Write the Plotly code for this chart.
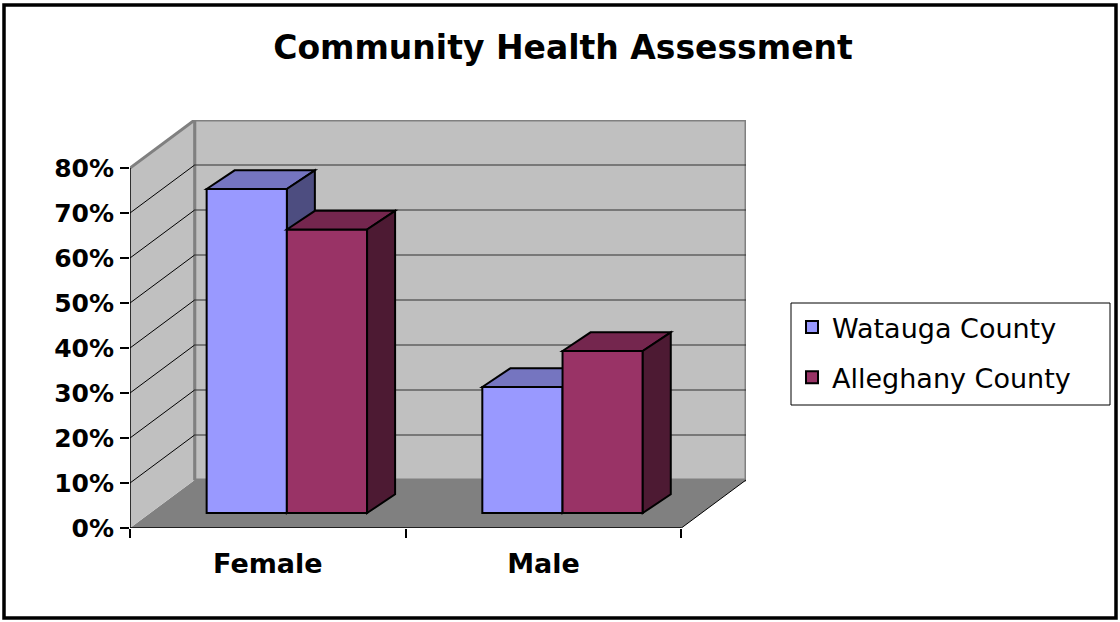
import plotly.graph_objects as go

# ---------------- data ----------------
categories = ["Female", "Male"]
series_names = ["Watauga County", "Alleghany County"]
watauga = [72, 28]
alleghany = [63, 36]
y_tick_values = [0, 10, 20, 30, 40, 50, 60, 70, 80]
y_tick_labels = ["0%", "10%", "20%", "30%", "40%", "50%", "60%", "70%", "80%"]

# ---------------- styling / 3-D geometry ----------------
W, H = 1120, 622
L, R, T, B = 130, 374, 120, 94           # plot area: x 130..746, y 120..528
Y_MAX = 80
DX, DY = 0.2345, 10.67                   # full depth offset (x in category units, y in %)
BDX, BDY = 0.1016, 4.16                  # bar depth offset
BASE = 3.33                              # bar front face floor level
GAP = 0.278                              # space before first bar in a category
BW = 0.291                               # bar width
FRONT = ["#9999FF", "#993366"]
TOP = ["#7575C0", "#74264E"]
SIDE = ["#4D4D80", "#4D1A33"]
WALL = "#C0C0C0"
FLOOR = "#808080"
FONT = "DejaVu Sans"

pw = W - L - R
ph = H - T - B


def px2paper(px, py):
    return (px - L) / pw, (H - B - py) / ph


def path(pts):
    return "M " + " L ".join(f"{x},{y}" for x, y in pts) + " Z"


shapes = []
# floor
shapes.append(dict(type="path", xref="x", yref="y", layer="below",
                   path=path([(0, 0), (2, 0), (2 + DX, DY), (DX, DY)]),
                   fillcolor=FLOOR, line=dict(width=0)))
# back wall
shapes.append(dict(type="rect", xref="x", yref="y", layer="below",
                   x0=DX, x1=2 + DX, y0=DY, y1=Y_MAX + DY,
                   fillcolor=WALL, line=dict(color="#808080", width=3)))
# left wall
shapes.append(dict(type="path", xref="x", yref="y", layer="below",
                   path=path([(0, 0), (DX, DY), (DX, Y_MAX + DY), (0, Y_MAX)]),
                   fillcolor=WALL, line=dict(width=0)))
shapes.append(dict(type="line", xref="x", yref="y", layer="below",
                   x0=0, y0=Y_MAX, x1=DX, y1=Y_MAX + DY,
                   line=dict(color="#808080", width=3)))
shapes.append(dict(type="line", xref="x", yref="y", layer="below",
                   x0=DX, y0=DY, x1=DX, y1=Y_MAX + DY,
                   line=dict(color="#808080", width=3)))
# gridlines
for v in y_tick_values[1:-1]:
    shapes.append(dict(type="line", xref="x", yref="y", layer="below",
                       x0=DX, y0=v + DY, x1=2 + DX, y1=v + DY,
                       line=dict(color="#303030", width=1.2)))
    shapes.append(dict(type="line", xref="x", yref="y", layer="below",
                       x0=0, y0=v, x1=DX, y1=v + DY,
                       line=dict(color="#000000", width=1)))
# floor right edge
shapes.append(dict(type="line", xref="x", yref="y", layer="below",
                   x0=2, y0=0, x1=2 + DX, y1=DY,
                   line=dict(color="#000000", width=1)))

# bar top / side faces
for s, vals in enumerate([watauga, alleghany]):
    layer = "below" if s == 0 else "above"
    for i, v in enumerate(vals):
        xl = i + GAP + s * BW
        xr = xl + BW
        top = BASE + v
        shapes.append(dict(type="path", xref="x", yref="y", layer=layer,
                           path=path([(xl, top), (xl + BDX, top + BDY),
                                      (xr + BDX, top + BDY), (xr, top)]),
                           fillcolor=TOP[s], line=dict(color="black", width=2)))
        shapes.append(dict(type="path", xref="x", yref="y", layer=layer,
                           path=path([(xr, BASE), (xr + BDX, BASE + BDY),
                                      (xr + BDX, top + BDY), (xr, top)]),
                           fillcolor=SIDE[s], line=dict(color="black", width=2)))

# axis lines
shapes.append(dict(type="line", xref="x", yref="y", layer="above",
                   x0=0, y0=0, x1=0, y1=Y_MAX, line=dict(color="black", width=1.5)))
shapes.append(dict(type="line", xref="x", yref="y", layer="above",
                   x0=0, y0=0, x1=2, y1=0, line=dict(color="black", width=1.5)))

# legend border
lx0, ly0 = px2paper(791, 405)
lx1, ly1 = px2paper(1110, 303)
shapes.append(dict(type="rect", xref="paper", yref="paper", layer="above",
                   x0=lx0, y0=ly0, x1=lx1, y1=ly1,
                   line=dict(color="black", width=1), fillcolor="rgba(0,0,0,0)"))
# outer border
ox0, oy0 = px2paper(4, 618)
ox1, oy1 = px2paper(1116, 5)
shapes.append(dict(type="rect", xref="paper", yref="paper", layer="above",
                   x0=ox0, y0=oy0, x1=ox1, y1=oy1,
                   line=dict(color="black", width=3.5), fillcolor="rgba(0,0,0,0)"))

fig = go.Figure()
group_x = [i + GAP + BW for i in range(len(categories))]
for s, (name, vals) in enumerate(zip(series_names, [watauga, alleghany])):
    fig.add_trace(go.Bar(
        x=group_x, y=vals, base=BASE, name=name,
        offset=-BW if s == 0 else 0, width=BW,
        marker=dict(color=FRONT[s], line=dict(color="black", width=2)),
        legendgroup=name, hoverinfo="skip",
    ))

lgx, lgy = px2paper(792, 303)
fig.update_layout(
    width=W, height=H, autosize=False,
    margin=dict(l=L, r=R, t=T, b=B, pad=0, autoexpand=False),
    paper_bgcolor="white", plot_bgcolor="white",
    barmode="overlay",
    title=dict(text="Community Health Assessment", x=563 / W, y=1 - 47 / H,
               xref="container", yref="container", xanchor="center", yanchor="middle",
               font=dict(family=FONT, size=33, color="black", weight="bold")),
    xaxis=dict(range=[0, 2 + DX], tickmode="array", tickvals=[0.5, 1.5],
               ticktext=categories, ticks="", showgrid=False, zeroline=False,
               showline=False, automargin=False, ticklabelstandoff=17,
               tickfont=dict(family=FONT, size=27, color="black", weight="bold"),
               minor=dict(tickmode="array", tickvals=[0, 1, 2], ticks="outside",
                          ticklen=9, tickcolor="black", tickwidth=1.5, showgrid=False)),
    yaxis=dict(range=[0, Y_MAX + DY], tickmode="array", tickvals=y_tick_values,
               ticktext=y_tick_labels, ticks="outside", ticklen=9, tickcolor="black",
               tickwidth=1.5, showgrid=False, zeroline=False, showline=False,
               automargin=False, ticklabelstandoff=1,
               tickfont=dict(family=FONT, size=25, color="black", weight="bold")),
    legend=dict(x=lgx, y=lgy, xanchor="left", yanchor="top", bgcolor="rgba(0,0,0,0)",
                borderwidth=0, tracegroupgap=12, traceorder="grouped",
                font=dict(family=FONT, size=27, color="black")),
    shapes=shapes,
    showlegend=True,
)

fig.write_html("out.html", config={"displayModeBar": False},
               post_script="document.body.style.margin='0';document.body.style.overflow='hidden';")
